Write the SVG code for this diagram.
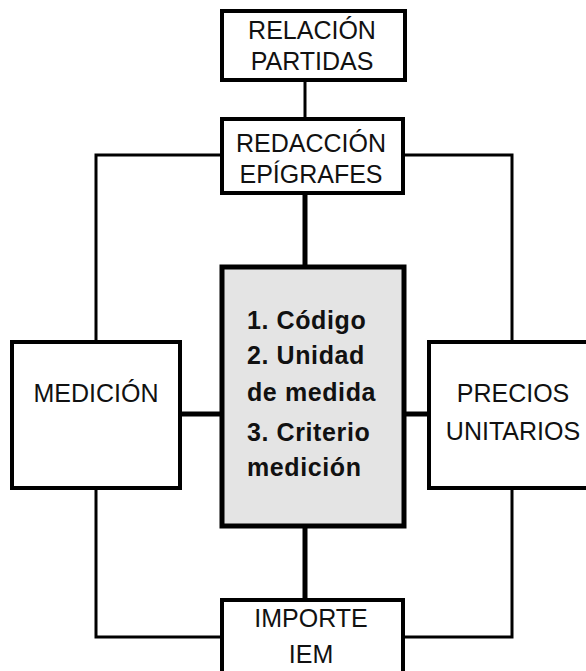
<svg xmlns="http://www.w3.org/2000/svg" width="586" height="671" viewBox="0 0 586 671">
<style>
.box{fill:#fff;stroke:#000;stroke-width:4}
.main{fill:#e4e4e4;stroke:#000;stroke-width:5}
.t{font-family:"Liberation Sans",Arial,sans-serif;font-size:25px;fill:#111;text-anchor:middle}
.b{font-family:"Liberation Sans",Arial,sans-serif;font-size:25px;font-weight:bold;fill:#111;letter-spacing:0.6px}
.c{fill:none;stroke:#000;stroke-width:3}
.ct{fill:none;stroke:#000;stroke-width:5}
</style>
<rect width="586" height="671" fill="#fff"/>
<g id="connectors">
<line class="c" x1="305" y1="80" x2="305" y2="119"/>
<polyline class="c" points="222,155 96,155 96,342"/>
<polyline class="c" points="403,155 512,155 512,342"/>
<polyline class="c" points="96,488 96,637 222,637"/>
<polyline class="c" points="512,488 512,637 403,637"/>
<line class="ct" x1="305" y1="193" x2="305" y2="267"/>
<line class="ct" x1="305" y1="526" x2="305" y2="600"/>
<line class="ct" x1="180" y1="414" x2="222" y2="414"/>
<line class="ct" x1="404" y1="414" x2="429" y2="414"/>
</g>
<g id="relacion">
<rect class="box" x="222" y="11" width="183" height="69"/>
<text class="t" x="312" y="39">RELACIÓN</text>
<text class="t" x="312" y="70">PARTIDAS</text>
</g>
<g id="redaccion">
<rect class="box" x="222" y="119" width="181" height="74"/>
<text class="t" x="311" y="152">REDACCIÓN</text>
<text class="t" x="311" y="183">EPÍGRAFES</text>
</g>
<g id="medicion">
<rect class="box" x="12" y="342" width="168" height="146"/>
<text class="t" x="96" y="402">MEDICIÓN</text>
</g>
<g id="precios">
<rect class="box" x="429" y="342" width="170" height="146"/>
<text class="t" x="513" y="402">PRECIOS</text>
<text class="t" x="513" y="440">UNITARIOS</text>
</g>
<g id="central">
<rect class="main" x="222" y="267" width="182" height="259"/>
<text class="b" x="247" y="329">1. Código</text>
<text class="b" x="247" y="364">2. Unidad</text>
<text class="b" x="247" y="401">de medida</text>
<text class="b" x="247" y="441">3. Criterio</text>
<text class="b" x="247" y="476">medición</text>
</g>
<g id="importe">
<rect class="box" x="222" y="600" width="181" height="80"/>
<text class="t" x="311" y="627">IMPORTE</text>
<text class="t" x="311" y="663">IEM</text>
</g>
</svg>
